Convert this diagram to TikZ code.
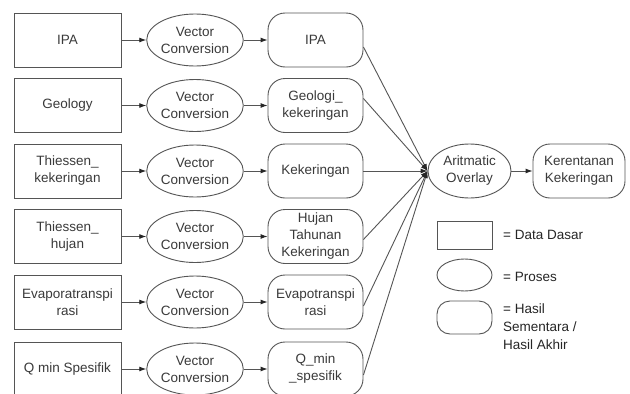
\documentclass[tikz,border=0pt]{standalone}
\usepackage{fontspec}
\setmainfont{Liberation Sans}
\usetikzlibrary{shapes.geometric,arrows.meta}
\definecolor{ln}{HTML}{555555}
\definecolor{tx}{HTML}{3A3A3A}
\tikzset{
  base/.style={draw=ln, line width=0.9pt, text=tx, inner sep=0pt, align=center,
    font=\fontsize{13.5}{17}\selectfont},
  datab/.style={base, rectangle, minimum width=107pt, minimum height=54pt},
  proc/.style={base, ellipse, minimum width=86pt, minimum height=52pt},
  hasil/.style={base, rectangle, rounded corners=17pt, minimum width=95pt, minimum height=54pt},
  conn/.style={draw=ln, line width=0.9pt, -{Latex[length=7pt,width=5pt,color=black!85]}},
  legtext/.style={anchor=west, text=black!85, align=left, inner sep=0pt,
    font=\fontsize{13.5}{18}\selectfont}
}
\begin{document}
\begin{tikzpicture}[x=1pt,y=-1pt]
\useasboundingbox (0,0) rectangle (630,394);
\fill[white] (0,0) rectangle (630,394);

\node[datab] (d1) at (67.5,40) {IPA};
\node[datab] (d2) at (67.5,105.5) {Geology};
\node[datab] (d3) at (67.5,171) {Thiessen\_\\kekeringan};
\node[datab] (d4) at (67.5,236.5) {Thiessen\_\\hujan};
\node[datab] (d5) at (67.5,302) {Evaporatranspi\\rasi};
\node[datab] (d6) at (67.5,369) {Q min Spesifik};

\foreach \i/\y in {1/40,2/105.5,3/171,4/236.5,5/302,6/369}{
  \node[proc] (p\i) at (195,\y) {Vector\\Conversion};
}

\node[hasil] (h1) at (315.5,40) {IPA};
\node[hasil] (h2) at (315.5,105.5) {Geologi\_\\kekeringan};
\node[hasil] (h3) at (315.5,171) {Kekeringan};
\node[hasil] (h4) at (315.5,236.5) {Hujan\\Tahunan\\Kekeringan};
\node[hasil] (h5) at (315.5,302) {Evapotranspi\\rasi};
\node[hasil] (h6) at (315.5,369) {Q\_min\\\_spesifik};

\foreach \i in {1,...,6}{
  \draw[conn] (d\i) -- (p\i);
  \draw[conn] (p\i) -- (h\i);
}

\node[proc, minimum width=83pt, minimum height=54pt] (ao) at (469.5,171) {Aritmatic\\Overlay};
\node[hasil, minimum width=92pt] (kk) at (579,171) {Kerentanan\\Kekeringan};

\coordinate (c1) at ([yshift=-7pt]h1.east);
\coordinate (c2) at ([yshift=7pt]h2.east);
\coordinate (c3) at (h3.east);
\coordinate (c4) at ([yshift=-3pt]h4.east);
\coordinate (c5) at ([yshift=-4pt]h5.east);
\coordinate (c6) at ([yshift=-6pt]h6.east);
\foreach \i in {1,...,6}{
  \draw[conn] (c\i) -- (ao.west);
}
\draw[conn] (ao) -- (kk);

% legend
\node[base, rectangle, minimum width=55pt, minimum height=28pt] (l1) at (464.5,235) {};
\node[base, ellipse, minimum width=55pt, minimum height=32pt] (l2) at (464.5,275) {};
\node[base, rectangle, rounded corners=13pt, minimum width=55pt, minimum height=33pt] (l3) at (464.5,317.5) {};
\node[legtext] (t1) at (503,235) {= Data Dasar};
\node[legtext] (t2) at (503,277) {= Proses};
\node[legtext, anchor=north west] (t3) at (503,304) {= Hasil\\Sementara /\\Hasil Akhir};
\end{tikzpicture}
\end{document}
